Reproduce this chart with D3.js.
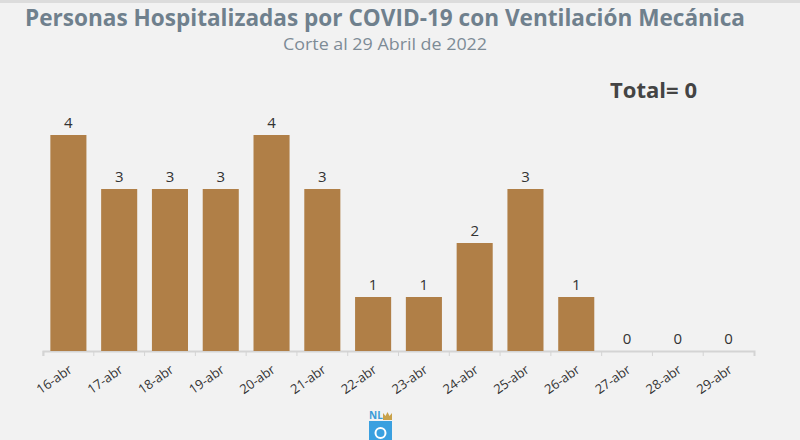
<!DOCTYPE html>
<html>
<head>
<meta charset="utf-8">
<script src="https://cdn.jsdelivr.net/npm/d3@7"></script>
<style>
  body { margin: 0; background: #f2f2f2; }
  svg { display: block; }
</style>
</head>
<body>
<script>
const fechas = ['16-abr','17-abr','18-abr','19-abr','20-abr','21-abr','22-abr','23-abr','24-abr','25-abr','26-abr','27-abr','28-abr','29-abr']
const valores = [4, 3, 3, 3, 4, 3, 1, 1, 2, 3, 1, 0, 0, 0]
const total = 0

function main(){
    var width = 800;
    var height = 440;
    const fuente = '"Open Sans", sans-serif'

    let svg = d3.select("body")
        .append('svg')
        .attr('width', width)
        .attr('height', height)
        .style('background', '#f2f2f2')

    // thin strip at the top
    svg.append('rect')
        .attr('x', 0).attr('y', 0)
        .attr('width', width).attr('height', 3)
        .attr('fill', '#dcdcdc')

    svg.append('text')
        .attr('x', 385)
        .attr('y', 26)
        .attr('text-anchor', 'middle')
        .attr('textLength', 720)
        .attr('lengthAdjust', 'spacingAndGlyphs')
        .style('font-family', fuente)
        .style('font-weight', 'bold')
        .style('font-size', '23px')
        .attr('fill', '#6f808d')
        .text('Personas Hospitalizadas por COVID-19 con Ventilación Mecánica')

    svg.append('text')
        .attr('x', 385)
        .attr('y', 50)
        .attr('text-anchor', 'middle')
        .attr('textLength', 204)
        .attr('lengthAdjust', 'spacingAndGlyphs')
        .style('font-family', fuente)
        .style('font-size', '16px')
        .attr('fill', '#7d8b96')
        .text('Corte al 29 Abril de 2022')

    svg.append('text')
        .attr('x', 610)
        .attr('y', 98)
        .attr('textLength', 87)
        .attr('lengthAdjust', 'spacingAndGlyphs')
        .style('font-family', fuente)
        .style('font-weight', 'bold')
        .style('font-size', '21px')
        .attr('fill', '#444')
        .text('Total= ' + total)

    let xScale = d3.scaleBand()
        .domain(fechas)
        .range([43, 754])
        .paddingInner(0.29)
        .paddingOuter(0.145)

    let yScale = d3.scaleLinear()
        .domain([0, 4])
        .range([351, 135])

    let xAxis = svg.append('g')
        .attr('transform', `translate(0,${yScale(0)})`)
        .call(d3.axisBottom(xScale).tickSizeOuter(0).tickSize(5))

    xAxis.select('.domain').attr('stroke', '#d4d4d4').attr('stroke-width', 2)
    xAxis.selectAll('.tick line')
        .attr('stroke', '#d4d4d4')
        .attr('transform', `translate(${-xScale.step() / 2},0)`)
    xAxis.selectAll('.tick text')
        .style('font-family', fuente)
        .style('font-size', '13px')
        .attr('fill', '#333')
        .attr('text-anchor', 'end')
        .attr('x', 0)
        .attr('y', 0)
        .attr('dy', '0.35em')
        .attr('transform', 'translate(2,17) rotate(-35)')

    svg.selectAll('rect.bar')
        .data(valores)
        .enter()
        .append('rect')
        .attr('class', 'bar')
        .attr('x', (d, i) => xScale(fechas[i]))
        .attr('y', d => yScale(d))
        .attr('width', xScale.bandwidth())
        .attr('height', d => yScale(0) - yScale(d))
        .attr('fill', '#b07f47')

    svg.selectAll('text.val')
        .data(valores)
        .enter()
        .append('text')
        .attr('class', 'val')
        .attr('x', (d, i) => xScale(fechas[i]) + xScale.bandwidth() / 2)
        .attr('y', d => yScale(d) - 7)
        .attr('text-anchor', 'middle')
        .style('font-family', fuente)
        .style('font-size', '15px')
        .attr('fill', '#333')
        .text(d => d)

    // small NL logo at the bottom
    let logo = svg.append('g').attr('transform', 'translate(369,410)')
    logo.append('text')
        .attr('x', 0).attr('y', 9)
        .style('font-family', fuente)
        .style('font-weight', 'bold')
        .style('font-size', '10px')
        .attr('fill', '#3a9bd8')
        .text('NL')
    logo.append('path')
        .attr('d', 'M14,10 L14,3 L16.5,6 L18.5,2 L20.5,6 L23,3 L23,10 Z')
        .attr('fill', '#c9a24a')
    logo.append('rect')
        .attr('x', 0).attr('y', 11)
        .attr('width', 23).attr('height', 20)
        .attr('fill', '#3aa0e0')
    logo.append('circle')
        .attr('cx', 11.5).attr('cy', 23).attr('r', 5)
        .attr('fill', 'none').attr('stroke', '#fff').attr('stroke-width', 2)
}

main()
</script>
</body>
</html>
